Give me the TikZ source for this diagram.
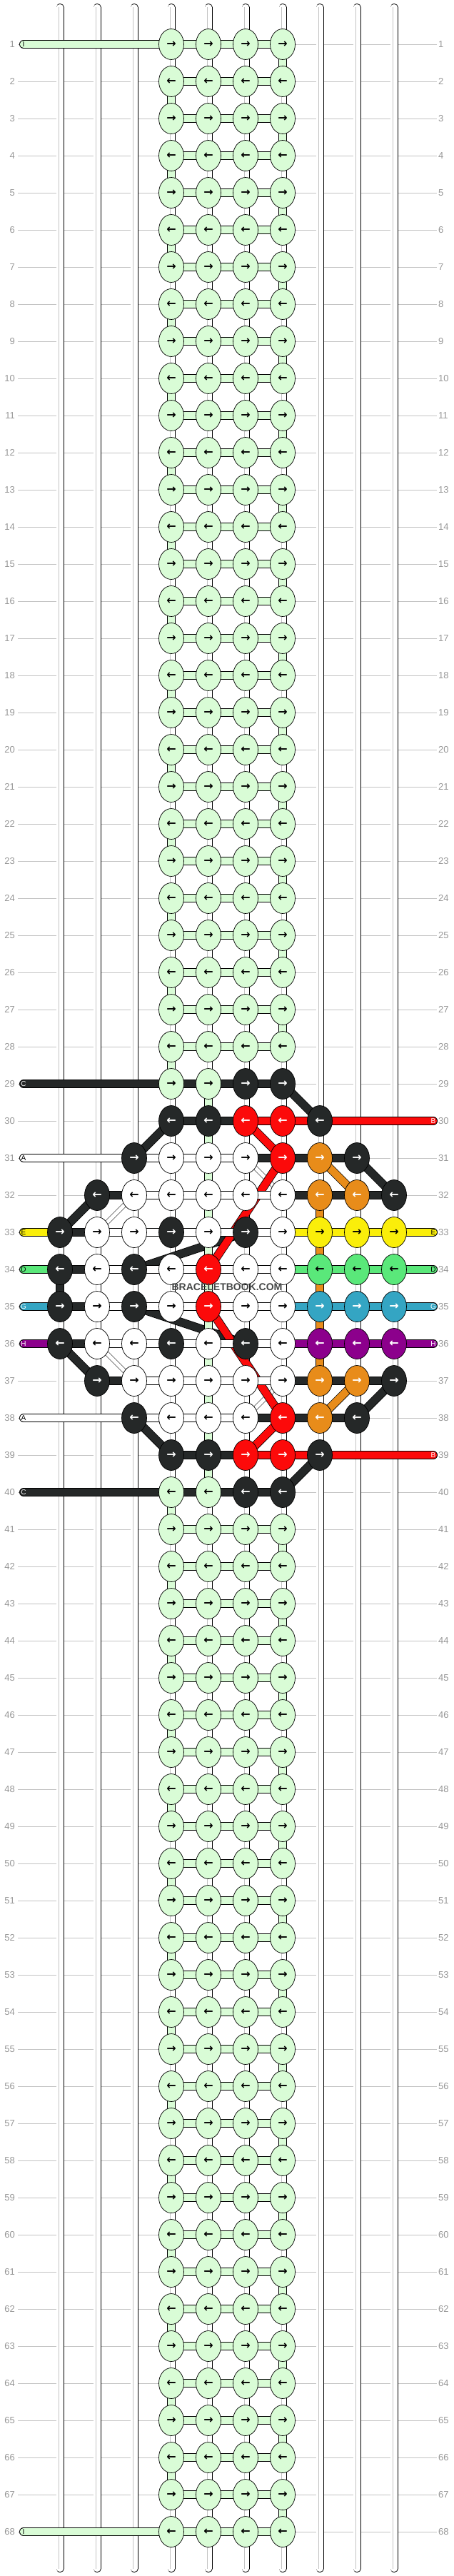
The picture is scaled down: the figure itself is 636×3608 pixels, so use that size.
\documentclass[tikz,border=0pt]{standalone}
\usepackage{fontspec}
\setmainfont{Liberation Sans}
\newfontfamily\arrowfont{DejaVu Sans}
\usetikzlibrary{shapes.geometric}

\definecolor{kgreen}{RGB}{217,252,214}
\definecolor{kblack}{RGB}{37,40,40}
\definecolor{kred}{RGB}{252,10,10}
\definecolor{korange}{RGB}{232,140,26}
\definecolor{kyellow}{RGB}{250,238,10}
\definecolor{klime}{RGB}{90,232,122}
\definecolor{kblue}{RGB}{52,165,195}
\definecolor{kpurple}{RGB}{140,0,140}
\definecolor{rowgray}{RGB}{195,195,195}
\definecolor{numgray}{RGB}{150,150,150}

\pgfdeclarelayer{strings}
\pgfdeclarelayer{threads}
\pgfsetlayers{strings,threads,main}

\newcommand{\knotdir}[1]{\ifodd#1 →\else ←\fi}

\begin{document}
\begin{tikzpicture}[x=1pt,y=-1pt,
    knot/.style={ellipse,draw,line width=0.7pt,minimum width=35pt,
      minimum height=43pt,inner sep=0pt,
      font=\arrowfont\bfseries\fontsize{16}{16}\selectfont},
    xG/.style={fill=kgreen},  xW/.style={fill=white},
    xY/.style={fill=kyellow}, xL/.style={fill=klime},
    xK/.style={fill=kblack,text=white},  xR/.style={fill=kred,text=white},
    xO/.style={fill=korange,text=white}, xB/.style={fill=kblue,text=white},
    xP/.style={fill=kpurple,text=white},
    thread/.style={line width=0.8pt,double=#1,double distance=10.4pt},
    tG/.style={thread=kgreen},  tW/.style={thread=white},
    tY/.style={thread=kyellow}, tL/.style={thread=klime},
    tK/.style={thread=kblack},  tR/.style={thread=kred},
    tO/.style={thread=korange}, tB/.style={thread=kblue},
    tP/.style={thread=kpurple},
    thinwhite/.style={line width=0.6pt,double=white,double distance=5.4pt},
    warp/.style={line width=0.9pt,double=white,double distance=9.2pt,line cap=round},
    warpcore/.style={draw=rowgray,line width=1.2pt},
    rowline/.style={draw=rowgray,line width=0.9pt},
    rownum/.style={inner sep=0pt,text=numgray,font=\fontsize{13}{13}\selectfont},
    tag/.style={inner sep=0pt,font=\fontsize{10}{10}\selectfont},
    stamp/.style={inner sep=0pt,text=kblack!85,font=\bfseries\fontsize{14}{14}\selectfont}]

  \useasboundingbox (0,0) rectangle (636,3608);

  % row numbers
  \foreach \row in {1,...,68} {
    \node[rownum,anchor=east] (nl-\row) at (21,{\row*52+10}) {\row};
    \node[rownum,anchor=west] (nr-\row) at (614,{\row*52+10}) {\row};
  }

  % plain knots
  \foreach \from/\to in {1/28,41/68}
    \foreach \row in {\from,...,\to}
      \foreach \cl in {4,...,7}
        \node[knot,xG] (k-\row-\cl) at ({\cl*52+32},{\row*52+10}) {\knotdir{\row}};

  % pattern knots
  \foreach \row/\first/\knots in {
      29/4/{G,G,K,K},           30/4/{K,K,R,R,K},
      31/3/{K,W,W,W,R,O,K},     32/2/{K,W,W,W,W,W,O,O,K},
      33/1/{K,W,W,K,W,K,W,Y,Y,Y}, 34/1/{K,W,K,W,R,W,W,L,L,L},
      35/1/{K,W,K,W,R,W,W,B,B,B}, 36/1/{K,W,W,K,W,K,W,P,P,P},
      37/2/{K,W,W,W,W,W,O,O,K}, 38/3/{K,W,W,W,R,O,K},
      39/4/{K,K,R,R,K},         40/4/{G,G,K,K}}
    \foreach \kc [count=\cl from \first] in \knots
      \node[knot,x\kc] (k-\row-\cl) at ({\cl*52+32},{\row*52+10}) {\knotdir{\row}};

  % loose ends
  \foreach \row/\first/\col/\lab in {1/4/G/I, 29/4/K/C, 31/3/W/A, 33/1/Y/E,
      34/1/L/D, 35/1/B/G, 36/1/P/H, 38/3/W/A, 40/4/K/C, 68/4/G/I} {
    \coordinate (tl-\row) at (33,{\row*52+10});
    \node[tag,x\col,fill=none] (ll-\row) at (tl-\row) {\lab};
    \begin{pgfonlayer}{threads}
      \draw[t\col,line cap=round] (tl-\row) -- (k-\row-\first.center);
    \end{pgfonlayer}
  }
  \foreach \row/\last/\col/\lab in {30/8/R/B, 33/10/Y/E, 34/10/L/D,
      35/10/B/G, 36/10/P/H, 39/8/R/B} {
    \coordinate (tr-\row) at (607,{\row*52+10});
    \node[tag,x\col,fill=none] (lr-\row) at (tr-\row) {\lab};
    \begin{pgfonlayer}{threads}
      \draw[t\col,line cap=round] (k-\row-\last.center) -- (tr-\row);
    \end{pgfonlayer}
  }

  \node[stamp] (mark-text) at (318,1803) {BRACELETBOOK.COM};

  \begin{pgfonlayer}{strings}
    \foreach \row in {1,...,68}
      \draw[rowline] ([xshift=4pt]nl-\row.east) -- ([xshift=-2pt]nr-\row.west);
    \foreach \cl in {1,...,10} {
      \coordinate (wt-\cl) at ({\cl*52+32},10.5);
      \coordinate (wb-\cl) at ({\cl*52+32},3597.5);
      \draw[warp] (wt-\cl) -- (wb-\cl);
      \draw[warpcore] ([xshift=-1.5pt]wt-\cl) -- ([xshift=-1.5pt]wb-\cl);
    }
  \end{pgfonlayer}

  \begin{pgfonlayer}{threads}
    % diagonals
    \foreach \a/\b in {31-6/32-7, 32-3/33-2, 36-2/37-3, 37-7/38-6}
      \draw[thinwhite] (k-\a.center) -- (k-\b.center);
    \foreach \col/\a/\b in {K/29-7/30-8, K/30-4/31-3, K/31-9/32-10, K/32-2/33-1,
        K/33-6/34-3, K/35-3/36-6, K/36-1/37-2, K/37-10/38-9, K/38-3/39-4,
        K/39-8/40-7, O/31-8/32-9, O/37-9/38-8,
        R/30-6/31-7, R/31-7/34-5, R/35-5/38-7, R/38-7/39-6}
      \draw[t\col] (k-\a.center) -- (k-\b.center);

    % turns down the columns
    \foreach \from/\to in {1/28,40/67}
      \foreach \row in {\from,...,\to} {
        \pgfmathtruncatemacro\cl{isodd(\row) ? 7 : 4}
        \pgfmathtruncatemacro\nx{\row+1}
        \draw[tG] (k-\row-\cl.center) -- (k-\nx-\cl.center);
      }
    \foreach \row in {29,...,39} {
      \pgfmathtruncatemacro\nx{\row+1}
      \draw[tG] (k-\row-5.center) -- (k-\nx-5.center);
    }
    \foreach \row in {32,...,36} {
      \pgfmathtruncatemacro\nx{\row+1}
      \draw[tO] (k-\row-8.center) -- (k-\nx-8.center);
    }
    \draw[tK] (k-34-1.center) -- (k-35-1.center);

    % across the rows
    \foreach \from/\to in {1/28,41/68}
      \foreach \row in {\from,...,\to}
        \foreach \cl in {4,5,6} {
          \pgfmathtruncatemacro\nx{\cl+1}
          \draw[tG] (k-\row-\cl.center) -- (k-\row-\nx.center);
        }
    \foreach \row/\first/\segs in {
        29/4/{K,K,K},             30/4/{K,K,R,R},
        31/3/{W,W,W,K,K,K},       32/2/{K,W,W,W,W,K,K,K},
        33/1/{K,W,W,W,W,W,Y,Y,Y}, 34/1/{K,W,W,W,W,W,L,L,L},
        35/1/{K,W,W,W,W,W,B,B,B}, 36/1/{K,W,W,W,W,W,P,P,P},
        37/2/{K,W,W,W,W,K,K,K},   38/3/{W,W,W,K,K,K},
        39/4/{K,K,R,R},           40/4/{K,K,K}}
      \foreach \sc [count=\cl from \first] in \segs {
        \pgfmathtruncatemacro\nx{\cl+1}
        \draw[t\sc] (k-\row-\cl.center) -- (k-\row-\nx.center);
      }
  \end{pgfonlayer}
\end{tikzpicture}
\end{document}
